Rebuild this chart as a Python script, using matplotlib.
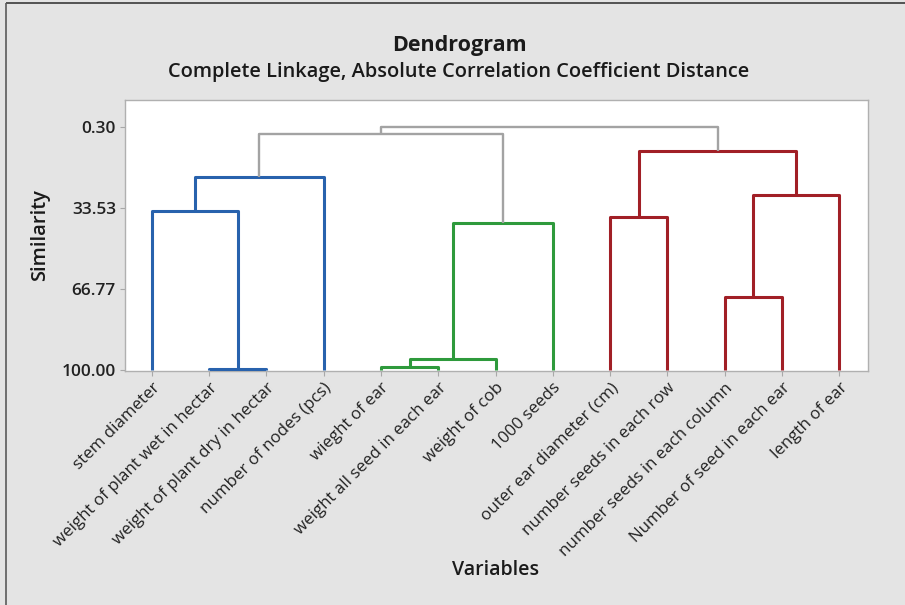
import matplotlib
matplotlib.use("Agg")
import matplotlib.pyplot as plt
from matplotlib.lines import Line2D

# ---------------- data ----------------
labels = ["stem diameter", "weight of plant wet in hectar", "weight of plant dry in hectar",
          "number of nodes (pcs)", "wieght of ear", "weight all seed in each ear",
          "weight of cob", "1000 seeds", "outer ear diameter (cm)",
          "number seeds in each row", "number seeds in each column",
          "Number of seed in each ear", "length of ear"]

# merges: (left node, right node, similarity); new node ids start at len(labels)
merge_left = [1, 0, 14, 4, 16, 17, 8, 10, 20, 19, 15, 23]
merge_right = [2, 13, 3, 5, 6, 7, 9, 11, 12, 21, 18, 22]
merge_sim = [99.6, 34.9, 20.9, 98.8, 95.4, 39.6, 37.3, 69.9, 28.1, 10.0, 3.2, 0.30]
merge_group = ["blue", "blue", "blue", "green", "green", "green",
               "red", "red", "red", "red", "gray", "gray"]

ytick_vals = [0.30, 33.53, 66.77, 100.00]
ytick_labels = ["0.30", "33.53", "66.77", "100.00"]

colors = {"blue": "#2862ad", "green": "#2e9a3c", "red": "#a11f26", "gray": "#a3a3a3"}
widths = {"blue": 2.2, "green": 2.2, "red": 2.2, "gray": 1.7}

# ---------------- figure ----------------
plt.rcParams["font.family"] = ["Open Sans", "DejaVu Sans"]
fig = plt.figure(figsize=(9.05, 6.05), dpi=100)
fig.patch.set_facecolor("#e4e4e4")

W, H = 905, 605
ax = fig.add_axes([125 / W, 1 - 371 / H, (868 - 125) / W, (371 - 100) / H])
ax.set_facecolor("white")

n = len(labels)
xpos = {i: i + 1 for i in range(n)}
ypos = {i: 100.0 for i in range(n)}
for k, (a, b, s, g) in enumerate(zip(merge_left, merge_right, merge_sim, merge_group)):
    node = n + k
    xa, xb = xpos[a], xpos[b]
    ya, yb = ypos[a], ypos[b]
    ax.plot([xa, xa, xb, xb], [ya, s, s, yb], color=colors[g], lw=widths[g],
            solid_joinstyle="round", solid_capstyle="butt", zorder=3)
    xpos[node] = (xa + xb) / 2
    ypos[node] = s

ax.set_xlim(0.53, 13.5)
ax.set_ylim(100.3, -10.8)

ax.set_yticks(ytick_vals)
ax.set_yticklabels(ytick_labels, fontsize=12.4, fontweight="semibold", color="#222222")
ax.set_xticks(range(1, n + 1))
ax.set_xticklabels(labels, rotation=45, ha="right", rotation_mode="anchor",
                   fontsize=12.2, color="#222222")
ax.tick_params(axis="both", length=3.5, width=0.8, color="#a8a8a8", pad=3)

for sp in ax.spines.values():
    sp.set_color("#b0b0b0")
    sp.set_linewidth(1.0)

# titles and axis labels
fig.text(459 / W, 1 - 45 / H, "Dendrogram", ha="center", va="center",
         fontsize=15.5, fontweight="bold", color="#1a1a1a")
fig.text(459 / W, 1 - 72 / H, "Complete Linkage, Absolute Correlation Coefficient Distance",
         ha="center", va="center", fontsize=14.4, fontweight="semibold", color="#1a1a1a")
fig.text(496 / W, 1 - 570 / H, "Variables", ha="center", va="center",
         fontsize=14, fontweight="semibold", color="#1a1a1a")
fig.text(40 / W, 1 - 235 / H, "Similarity", ha="center", va="center", rotation=90,
         fontsize=14.5, fontweight="semibold", color="#1a1a1a")

# outer frame lines (top and left)
fig.add_artist(Line2D([5.5 / W, 1], [1 - 2.5 / H, 1 - 2.5 / H], transform=fig.transFigure,
                      color="#3a3a3a", lw=1.2, solid_capstyle="butt"))
fig.add_artist(Line2D([5.5 / W, 5.5 / W], [0, 1 - 2.5 / H], transform=fig.transFigure,
                      color="#5a5a5a", lw=1.2, solid_capstyle="butt"))

fig.savefig("out.png", dpi=100, facecolor=fig.get_facecolor())
